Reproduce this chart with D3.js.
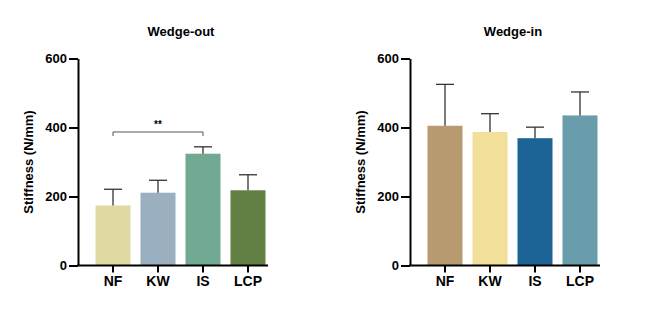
<!DOCTYPE html>
<html>
<head>
<meta charset="utf-8">
<script src="https://cdn.jsdelivr.net/npm/d3@7"></script>
<style>
  body { margin: 0; background: #fff; }
  text { font-family: "Liberation Sans", Arial, sans-serif; font-weight: bold; }
</style>
</head>
<body>
<div id="chart"></div>
<script>
(function(){
  'use strict';

  // data
  var groups = ['NF', 'KW', 'IS', 'LCP'];
  var yTicks = [0, 200, 400, 600];

  var outMeans = [174, 211, 324, 218];
  var outErrs = [221, 247, 344, 263];
  var outColors = ['#e0d9a2', '#9aafbf', '#72a993', '#628043'];

  var inMeans = [405, 387, 369, 435];
  var inErrs = [525, 440, 401, 503];
  var inColors = ['#b79a6f', '#f2df99', '#1d6496', '#6a9dac'];

  var svg = d3.select('#chart').append('svg')
    .attr('width', 669)
    .attr('height', 320);

  addPanel(78, 'Wedge-out', outMeans, outErrs, outColors, {from: 0, to: 2, value: 387, label: '**'});
  addPanel(410, 'Wedge-in', inMeans, inErrs, inColors, null);

  function addPanel(left, title, means, errs, colors, sig) {
    var top = 58.5, bottom = 265.5, right = left + 190;

    var x = d3.scaleBand()
      .domain(groups)
      .range([left + 13, right + 2])
      .paddingInner(0.222)
      .paddingOuter(0.1);

    var y = d3.scaleLinear()
      .domain([0, 600])
      .range([bottom, top]);

    var g = svg.append('g');

    // bars
    g.selectAll('.bar')
      .data(means)
      .enter()
      .append('rect')
      .attr('class', 'bar')
      .attr('x', function(d, i) { return x(groups[i]); })
      .attr('y', function(d) { return y(d); })
      .attr('width', x.bandwidth())
      .attr('height', function(d) { return y(0) - y(d); })
      .style('fill', function(d, i) { return colors[i]; });

    // error bars
    var eb = g.selectAll('.err')
      .data(errs)
      .enter()
      .append('g')
      .attr('class', 'err')
      .style('stroke', '#333')
      .style('stroke-width', 1.3);

    eb.append('line')
      .attr('x1', function(d, i) { return x(groups[i]) + x.bandwidth() / 2; })
      .attr('x2', function(d, i) { return x(groups[i]) + x.bandwidth() / 2; })
      .attr('y1', function(d, i) { return y(means[i]); })
      .attr('y2', function(d) { return y(d); });

    eb.append('line')
      .attr('x1', function(d, i) { return x(groups[i]) + x.bandwidth() / 2 - 9; })
      .attr('x2', function(d, i) { return x(groups[i]) + x.bandwidth() / 2 + 9; })
      .attr('y1', function(d) { return y(d); })
      .attr('y2', function(d) { return y(d); });

    // axes
    var yAxis = d3.axisLeft(y)
      .tickValues(yTicks)
      .tickSize(9)
      .tickPadding(2)
      .tickSizeOuter(0);

    var xAxis = d3.axisBottom(x)
      .tickSize(7)
      .tickPadding(4)
      .tickSizeOuter(0);

    var ya = g.append('g')
      .attr('transform', 'translate(' + left + ',0)')
      .call(yAxis);

    var xa = g.append('g')
      .attr('transform', 'translate(0,' + bottom + ')')
      .call(xAxis);

    xa.select('.domain').attr('d', 'M' + (left - 1) + ',0H' + right);

    [ya, xa].forEach(function(a) {
      a.selectAll('.domain').style('stroke', '#000').style('stroke-width', 2);
      a.selectAll('.tick line').style('stroke', '#000').style('stroke-width', 2);
      a.selectAll('.tick text').style('fill', '#000');
    });
    ya.selectAll('.tick text').style('font-size', '13px');
    xa.selectAll('.tick text').style('font-size', '14px');

    // titles
    g.append('text')
      .attr('x', (left + right) / 2 + 8)
      .attr('y', 36)
      .attr('text-anchor', 'middle')
      .style('font-size', '13px')
      .text(title);

    g.append('text')
      .attr('transform', 'translate(' + (left - 45) + ',' + ((top + bottom) / 2) + ') rotate(-90)')
      .attr('text-anchor', 'middle')
      .style('font-size', '13px')
      .text('Stiffness (N/mm)');

    // significance
    if (sig) {
      var x1 = x(groups[sig.from]) + x.bandwidth() / 2,
          x2 = x(groups[sig.to]) + x.bandwidth() / 2,
          yy = y(sig.value);
      g.append('path')
        .attr('d', 'M' + x1 + ',' + (yy + 4) + 'V' + yy + 'H' + x2 + 'V' + (yy + 4))
        .style('fill', 'none')
        .style('stroke', '#555')
        .style('stroke-width', 1);
      g.append('text')
        .attr('x', (x1 + x2) / 2)
        .attr('y', yy - 4)
        .attr('text-anchor', 'middle')
        .style('font-size', '10px')
        .text(sig.label);
    }
  }
}());
</script>
</body>
</html>
